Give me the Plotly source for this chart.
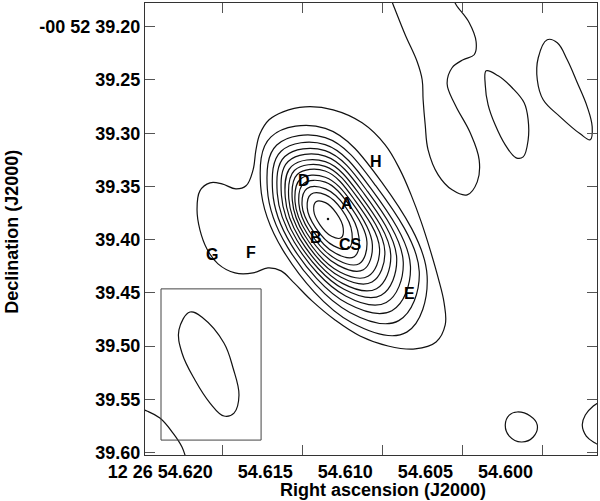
import plotly.graph_objects as go

# ---- axes ----
ra_ticks = [54.620, 54.615, 54.610, 54.605, 54.600]
ra_ticktext = ["12 26 54.620", "54.615", "54.610", "54.605", "54.600"]
dec_ticks = [39.20, 39.25, 39.30, 39.35, 39.40, 39.45, 39.50, 39.55, 39.60]
dec_ticktext = ["-00 52 39.20", "39.25", "39.30", "39.35", "39.40", "39.45", "39.50", "39.55", "39.60"]
ra_range = [54.62481, 54.59658]
dec_range = [39.6022, 39.1777]

# ---- contour 1 (lowest level, with western lobe) ----
lobe_ra = [54.61619, 54.61481, 54.61306, 54.61125, 54.60981, 54.60888, 54.60819, 54.60756, 54.60700,
           54.60650, 54.60613, 54.60606, 54.60663, 54.60794, 54.60963, 54.61138, 54.61294, 54.61438,
           54.61550, 54.61631, 54.61713, 54.61806, 54.61919, 54.62025, 54.62094, 54.62138, 54.62156,
           54.62138, 54.62075, 54.62000, 54.61913, 54.61850, 54.61806, 54.61788, 54.61763, 54.61706]
lobe_dec = [39.2799, 39.2752, 39.2780, 39.2902, 39.3109, 39.3344, 39.3579, 39.3833, 39.4096,
            39.4359, 39.4594, 39.4801, 39.4961, 39.5026, 39.4998, 39.4904, 39.4754, 39.4575,
            39.4406, 39.4293, 39.4265, 39.4312, 39.4312, 39.4227, 39.4087, 39.3908, 39.3720,
            39.3541, 39.3466, 39.3476, 39.3523, 39.3494, 39.3344, 39.3156, 39.3006, 39.2874]

# ---- nested contours 2..14 around the peak ----
c02_ra = [54.61694, 54.61355, 54.61004, 54.60719, 54.60846, 54.61186, 54.61619, 54.61759]
c02_dec = [39.3034, 39.2954, 39.3457, 39.4341, 39.4868, 39.4783, 39.4100, 39.3491]
c03_ra = [54.61658, 54.61355, 54.61040, 54.60768, 54.60896, 54.61202, 54.61591, 54.61717]
c03_dec = [39.3111, 39.3041, 39.3493, 39.4301, 39.4760, 39.4683, 39.4070, 39.3522]
c04_ra = [54.61631, 54.61356, 54.61068, 54.60823, 54.60939, 54.61216, 54.61568, 54.61684]
c04_dec = [39.3169, 39.3107, 39.3523, 39.4252, 39.4667, 39.4600, 39.4046, 39.3544]
c05_ra = [54.61608, 54.61356, 54.61091, 54.60868, 54.60974, 54.61228, 54.61548, 54.61655]
c05_dec = [39.3219, 39.3164, 39.3547, 39.4212, 39.4590, 39.4528, 39.4024, 39.3563]
c06_ra = [54.61587, 54.61356, 54.61112, 54.60909, 54.61006, 54.61238, 54.61531, 54.61629]
c06_dec = [39.3265, 39.3215, 39.3569, 39.4175, 39.4522, 39.4466, 39.4007, 39.3582]
c07_ra = [54.61566, 54.61355, 54.61133, 54.60946, 54.61035, 54.61248, 54.61515, 54.61605]
c07_dec = [39.3311, 39.3267, 39.3590, 39.4144, 39.4460, 39.4410, 39.3990, 39.3602]
c08_ra = [54.61548, 54.61356, 54.61151, 54.60983, 54.61063, 54.61256, 54.61499, 54.61583]
c08_dec = [39.3350, 39.3311, 39.3610, 39.4111, 39.4398, 39.4353, 39.3974, 39.3616]
c09_ra = [54.61530, 54.61356, 54.61170, 54.61016, 54.61088, 54.61264, 54.61484, 54.61561]
c09_dec = [39.3388, 39.3355, 39.3630, 39.4086, 39.4344, 39.4304, 39.3958, 39.3631]
c10_ra = [54.61510, 54.61355, 54.61189, 54.61061, 54.61117, 54.61274, 54.61469, 54.61544]
c10_dec = [39.3430, 39.3413, 39.3649, 39.4046, 39.4282, 39.4241, 39.3942, 39.3644]
c11_ra = [54.61491, 54.61355, 54.61208, 54.61095, 54.61143, 54.61281, 54.61453, 54.61520]
c11_dec = [39.3473, 39.3459, 39.3669, 39.4018, 39.4225, 39.4188, 39.3925, 39.3661]
c12_ra = [54.61469, 54.61354, 54.61229, 54.61145, 54.61174, 54.61291, 54.61436, 54.61500]
c12_dec = [39.3520, 39.3523, 39.3691, 39.3975, 39.4159, 39.4128, 39.3907, 39.3676]
c13_ra = [54.61444, 54.61353, 54.61253, 54.61188, 54.61209, 54.61302, 54.61416, 54.61468]
c13_dec = [39.3573, 39.3579, 39.3716, 39.3938, 39.4082, 39.4058, 39.3886, 39.3699]
c14_ra = [54.61413, 54.61354, 54.61286, 54.61243, 54.61256, 54.61316, 54.61389, 54.61427]
c14_dec = [39.3643, 39.3652, 39.3751, 39.3892, 39.3982, 39.3968, 39.3858, 39.3728]
peak_ra = [54.61338]
peak_dec = [39.3805]

# ---- other features ----
ne_ra = [54.60956, 54.60931, 54.60856, 54.60781, 54.60750, 54.60744, 54.60731, 54.60713, 54.60650,
         54.60563, 54.60469, 54.60406, 54.60394, 54.60450, 54.60544, 54.60594, 54.60563, 54.60494,
         54.60425, 54.60413, 54.60456, 54.60538, 54.60569]
ne_dec = [39.1699, 39.1793, 39.2075, 39.2329, 39.2498, 39.2686, 39.2921, 39.3156, 39.3391,
          39.3532, 39.3579, 39.3457, 39.3250, 39.2996, 39.2733, 39.2536, 39.2385, 39.2310,
          39.2263, 39.2141, 39.1962, 39.1793, 39.1699]
mid_ra = [54.60350, 54.60275, 54.60188, 54.60113, 54.60088, 54.60088, 54.60119, 54.60163,
          54.60231, 54.60294, 54.60338, 54.60356]
mid_dec = [39.2414, 39.2461, 39.2573, 39.2714, 39.2874, 39.3062, 39.3222, 39.3231,
           39.3109, 39.2921, 39.2733, 39.2545]
east_ra = [54.59969, 54.59906, 54.59844, 54.59781, 54.59719, 54.59688, 54.59700, 54.59763,
           54.59888, 54.59994, 54.60031, 54.60025]
east_dec = [39.2122, 39.2150, 39.2310, 39.2526, 39.2752, 39.2940, 39.3062, 39.3006,
            39.2846, 39.2686, 39.2498, 39.2291]
blob_ra = [54.60156, 54.60075, 54.60031, 54.60056, 54.60131, 54.60206, 54.60231, 54.60206]
blob_dec = [39.5618, 39.5656, 39.5741, 39.5853, 39.5900, 39.5844, 39.5741, 39.5647]
edge_ra = [54.59619, 54.59681, 54.59731, 54.59750, 54.59725, 54.59669, 54.59619]
edge_dec = [39.5506, 39.5562, 39.5647, 39.5741, 39.5844, 39.5910, 39.5947]
corner_ra = [54.62525, 54.62469, 54.62388, 54.62306, 54.62250, 54.62219]
corner_dec = [39.5581, 39.5609, 39.5675, 39.5816, 39.5947, 39.6088]

# ---- restoring beam ----
beam_ra = [54.62200, 54.62119, 54.61988, 54.61931, 54.61894, 54.61925, 54.61988, 54.62075,
           54.62169, 54.62250, 54.62269]
beam_dec = [39.4679, 39.4735, 39.4970, 39.5205, 39.5459, 39.5628, 39.5656, 39.5534,
            39.5318, 39.5064, 39.4848]
beambox_ra = [54.62381, 54.61756, 54.61756, 54.62381, 54.62381]
beambox_dec = [39.4462, 39.4462, 39.5882, 39.5882, 39.4462]

# ---- component labels ----
label_text = ["A", "B", "CS", "D", "E", "F", "G", "H"]
label_ra = [54.61221, 54.61414, 54.61200, 54.61488, 54.60831, 54.61819, 54.62063, 54.61038]
label_dec = [39.3662, 39.3976, 39.4044, 39.3443, 39.4505, 39.4119, 39.4138, 39.3266]

FAM = "Liberation Sans, Arial, Helvetica, sans-serif"
LINE = dict(color="#111111", width=1.2, shape="spline", smoothing=1.1)

fig = go.Figure()

closed = [(lobe_ra, lobe_dec), (c02_ra, c02_dec), (c03_ra, c03_dec), (c04_ra, c04_dec),
          (c05_ra, c05_dec), (c06_ra, c06_dec), (c07_ra, c07_dec), (c08_ra, c08_dec),
          (c09_ra, c09_dec), (c10_ra, c10_dec), (c11_ra, c11_dec), (c12_ra, c12_dec),
          (c13_ra, c13_dec), (c14_ra, c14_dec), (mid_ra, mid_dec), (east_ra, east_dec),
          (blob_ra, blob_dec), (beam_ra, beam_dec)]
for xs, ys in closed:
    fig.add_trace(go.Scatter(x=list(xs) + [xs[0]], y=list(ys) + [ys[0]], mode="lines",
                             line=LINE, hoverinfo="skip"))

for xs, ys in [(ne_ra, ne_dec), (edge_ra, edge_dec), (corner_ra, corner_dec)]:
    fig.add_trace(go.Scatter(x=xs, y=ys, mode="lines", line=LINE, hoverinfo="skip"))

fig.add_trace(go.Scatter(x=peak_ra, y=peak_dec, mode="markers",
                         marker=dict(size=2.5, color="#111111"), hoverinfo="skip"))

fig.add_trace(go.Scatter(x=beambox_ra, y=beambox_dec, mode="lines",
                         line=dict(color="#444444", width=1), hoverinfo="skip"))

for t, xr, yd in zip(label_text, label_ra, label_dec):
    fig.add_annotation(x=xr, y=yd, xref="x", yref="y", text=t, showarrow=False,
                       font=dict(family=FAM, size=16, color="#000000", weight="bold"),
                       xanchor="center", yanchor="middle")

TICKFONT = dict(family=FAM, size=18, color="#000000", weight="bold")

fig.update_xaxes(range=ra_range, tickmode="array", tickvals=ra_ticks, ticktext=ra_ticktext,
                 ticks="inside", ticklen=10, tickwidth=1.2, tickcolor="#555555",
                 showline=True, linecolor="#333333", linewidth=1.3, mirror="ticks",
                 showgrid=False, zeroline=False, tickfont=TICKFONT, tickangle=0,
                 automargin=False, ticklabelposition="outside left", ticklabelshift=8)
fig.update_yaxes(range=dec_range, tickmode="array", tickvals=dec_ticks, ticktext=dec_ticktext,
                 ticks="inside", ticklen=10, tickwidth=1.2, tickcolor="#555555",
                 showline=True, linecolor="#333333", linewidth=1.3, mirror="ticks",
                 showgrid=False, zeroline=False, tickfont=TICKFONT, automargin=False)

fig.add_annotation(x=0.5265, y=0, xref="paper", yref="paper", text="Right ascension (J2000)",
                   showarrow=False, xanchor="center", yanchor="bottom", yshift=-46,
                   borderpad=0,
                   font=dict(family=FAM, size=18, color="#000000", weight="bold"))
fig.add_annotation(x=-0.2942, y=0.4937, xref="paper", yref="paper", text="Declination (J2000)",
                   showarrow=False, xanchor="center", yanchor="middle", textangle=-90,
                   font=dict(family=FAM, size=18, color="#000000", weight="bold"))

fig.update_layout(width=600, height=501, margin=dict(l=145, r=3, t=3, b=46, autoexpand=False),
                  plot_bgcolor="white", paper_bgcolor="white", showlegend=False,
                  hovermode=False)

fig.write_html("out.html", config={"displayModeBar": False},
               post_script="document.body.style.margin='0';document.body.style.overflow='hidden';")
